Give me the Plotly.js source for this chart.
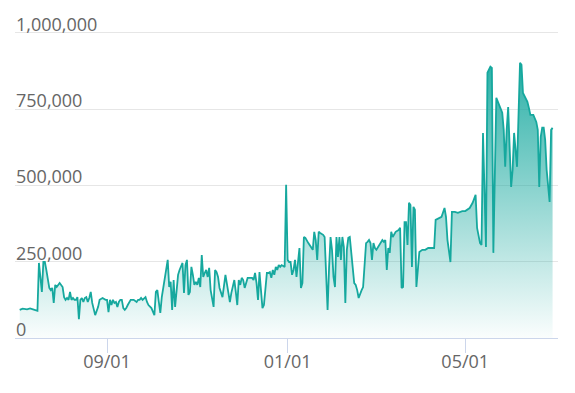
<!DOCTYPE html>
<html>
<head>
<meta charset="utf-8">
<script src="https://cdn.plot.ly/plotly-3.0.1.min.js"></script>
<style>html,body{margin:0;padding:0;background:#fff;}#chart{width:575px;height:393px;}</style>
</head>
<body>
<div id="chart"></div>
<script>
const dates = [
"2020-07-04","2020-07-06","2020-07-09","2020-07-11","2020-07-13","2020-07-16","2020-07-17","2020-07-18","2020-07-19","2020-07-20",
"2020-07-21","2020-07-22","2020-07-23","2020-07-24","2020-07-25","2020-07-26","2020-07-27","2020-07-28","2020-07-29","2020-07-30",
"2020-07-31","2020-08-02","2020-08-03","2020-08-04","2020-08-05","2020-08-06","2020-08-07","2020-08-08","2020-08-09","2020-08-10",
"2020-08-11","2020-08-12","2020-08-13","2020-08-14","2020-08-15","2020-08-16","2020-08-17","2020-08-18","2020-08-19","2020-08-20",
"2020-08-21","2020-08-22","2020-08-23","2020-08-24","2020-08-26","2020-08-27","2020-08-29","2020-08-31","2020-09-01","2020-09-02",
"2020-09-03","2020-09-04","2020-09-05","2020-09-06","2020-09-07","2020-09-08","2020-09-09","2020-09-10","2020-09-11","2020-09-12",
"2020-09-13","2020-09-14","2020-09-15","2020-09-17","2020-09-18","2020-09-19","2020-09-21","2020-09-22","2020-09-23","2020-09-24",
"2020-09-25","2020-09-26","2020-09-27","2020-09-28","2020-09-29","2020-10-01","2020-10-03","2020-10-04","2020-10-05","2020-10-06",
"2020-10-07","2020-10-08","2020-10-09","2020-10-10","2020-10-11","2020-10-12","2020-10-13","2020-10-14","2020-10-15","2020-10-16",
"2020-10-17","2020-10-19","2020-10-20","2020-10-22","2020-10-23","2020-10-24","2020-10-25","2020-10-26","2020-10-27","2020-10-28",
"2020-10-29","2020-10-30","2020-10-31","2020-11-01","2020-11-02","2020-11-03","2020-11-04","2020-11-05","2020-11-06","2020-11-07",
"2020-11-08","2020-11-09","2020-11-10","2020-11-11","2020-11-12","2020-11-13","2020-11-14","2020-11-15","2020-11-16","2020-11-18",
"2020-11-19","2020-11-20","2020-11-22","2020-11-23","2020-11-24","2020-11-25","2020-11-26","2020-11-27","2020-11-28","2020-11-29",
"2020-11-30","2020-12-01","2020-12-02","2020-12-03","2020-12-04","2020-12-05","2020-12-07","2020-12-08","2020-12-09","2020-12-10",
"2020-12-11","2020-12-12","2020-12-13","2020-12-14","2020-12-15","2020-12-16","2020-12-17","2020-12-18","2020-12-19","2020-12-20",
"2020-12-21","2020-12-22","2020-12-23","2020-12-24","2020-12-25","2020-12-26","2020-12-27","2020-12-28","2020-12-30","2020-12-31",
"2021-01-01","2021-01-02","2021-01-03","2021-01-04","2021-01-05","2021-01-06","2021-01-07","2021-01-08","2021-01-09","2021-01-10",
"2021-01-11","2021-01-12","2021-01-13","2021-01-15","2021-01-17","2021-01-18","2021-01-19","2021-01-20","2021-01-21","2021-01-22",
"2021-01-23","2021-01-25","2021-01-26","2021-01-28","2021-01-29","2021-01-30","2021-01-31","2021-02-01","2021-02-02","2021-02-03",
"2021-02-04","2021-02-05","2021-02-06","2021-02-07","2021-02-08","2021-02-09","2021-02-10","2021-02-11","2021-02-12","2021-02-13",
"2021-02-14","2021-02-15","2021-02-16","2021-02-17","2021-02-18","2021-02-19","2021-02-20","2021-02-21","2021-02-22","2021-02-23",
"2021-02-24","2021-02-25","2021-02-26","2021-02-27","2021-02-28","2021-03-01","2021-03-02","2021-03-03","2021-03-04","2021-03-05",
"2021-03-06","2021-03-07","2021-03-08","2021-03-09","2021-03-10","2021-03-11","2021-03-12","2021-03-13","2021-03-14","2021-03-15",
"2021-03-17","2021-03-18","2021-03-19","2021-03-20","2021-03-21","2021-03-22","2021-03-23","2021-03-24","2021-03-25","2021-03-26",
"2021-03-27","2021-03-28","2021-03-29","2021-03-31","2021-04-02","2021-04-04","2021-04-06","2021-04-08","2021-04-10","2021-04-11",
"2021-04-13","2021-04-15","2021-04-17","2021-04-18","2021-04-19","2021-04-21","2021-04-22","2021-04-24","2021-04-26","2021-04-29",
"2021-05-01","2021-05-03","2021-05-04","2021-05-06","2021-05-08","2021-05-09","2021-05-10","2021-05-11","2021-05-12","2021-05-13",
"2021-05-15","2021-05-16","2021-05-17","2021-05-18","2021-05-19","2021-05-20","2021-05-22","2021-05-24","2021-05-26","2021-05-27",
"2021-05-28","2021-05-29","2021-05-30","2021-06-01","2021-06-02","2021-06-03","2021-06-04","2021-06-05","2021-06-07","2021-06-08",
"2021-06-09","2021-06-12","2021-06-13","2021-06-14","2021-06-16","2021-06-18","2021-06-19","2021-06-20","2021-06-21","2021-06-22",
"2021-06-23","2021-06-24","2021-06-25","2021-06-27","2021-06-28","2021-06-29"
];
const values = [
92000,96000,94000,97000,94000,89000,246000,190000,151000,249000,
249000,223000,190000,164000,157000,164000,115000,174000,167000,174000,
180000,167000,134000,125000,131000,125000,151000,125000,131000,125000,
125000,134000,62000,125000,131000,118000,131000,134000,118000,131000,
151000,115000,92000,75000,102000,125000,131000,125000,125000,85000,
125000,108000,125000,115000,118000,102000,118000,125000,125000,98000,
92000,98000,108000,125000,125000,125000,118000,125000,125000,131000,
125000,131000,134000,118000,108000,98000,75000,151000,157000,118000,
82000,134000,164000,184000,213000,256000,167000,184000,92000,190000,
102000,207000,223000,246000,148000,239000,256000,141000,151000,233000,
207000,174000,184000,174000,197000,167000,272000,200000,213000,223000,
200000,230000,157000,134000,102000,223000,216000,200000,164000,134000,
164000,207000,148000,118000,148000,167000,190000,151000,108000,190000,
174000,197000,190000,164000,184000,197000,197000,197000,190000,213000,
180000,125000,216000,157000,98000,108000,151000,213000,213000,216000,
197000,223000,207000,233000,223000,239000,233000,239000,233000,502000,
256000,249000,249000,207000,223000,256000,200000,246000,295000,164000,
180000,331000,328000,311000,298000,289000,348000,321000,256000,348000,
344000,338000,331000,92000,230000,331000,289000,200000,167000,331000,
266000,331000,256000,331000,298000,115000,289000,328000,331000,272000,
216000,180000,174000,157000,131000,148000,157000,167000,230000,311000,
315000,321000,311000,256000,311000,295000,289000,298000,305000,315000,
321000,315000,321000,223000,295000,279000,348000,331000,338000,348000,
354000,361000,164000,167000,380000,380000,305000,443000,436000,233000,
430000,420000,167000,282000,289000,289000,295000,295000,295000,387000,
393000,397000,426000,397000,321000,249000,413000,413000,410000,416000,
416000,423000,426000,443000,469000,361000,331000,311000,305000,672000,
298000,869000,879000,889000,885000,279000,787000,764000,738000,682000,
561000,682000,757000,495000,551000,672000,626000,561000,902000,895000,
803000,774000,754000,731000,731000,708000,682000,495000,659000,689000,
689000,649000,551000,446000,682000,689000
];
const yTicks = [0, 250000, 500000, 750000, 1000000];
const yTickLabels = ["0", "250,000", "500,000", "750,000", "1,000,000"];
const xTicks = ["2020-09-01", "2021-01-01", "2021-05-01"];

const teal = "rgb(22,168,158)";
const labelFont = {family: "Open Sans, sans-serif", size: 18, color: "#666666"};
const trace = {
  x: dates, y: values, type: "scatter", mode: "lines",
  line: {color: teal, width: 1.8},
  fill: "tozeroy",
  fillgradient: {type: "vertical", start: 0, stop: 1000000,
    colorscale: [[0, "rgba(22,168,158,0.02)"], [1, "rgba(22,168,158,1)"]]},
  hoverinfo: "skip"
};
const annotations = yTicks.map((v, i) => ({
  xref: "paper", x: 0, xanchor: "left",
  yref: "y", y: v, yanchor: "bottom", yshift: -4,
  text: yTickLabels[i], showarrow: false, font: labelFont, borderpad: 0
}));
const layout = {
  width: 575, height: 393,
  margin: {l: 15, r: 17, t: 13, b: 55},
  paper_bgcolor: "#fff", plot_bgcolor: "#fff",
  showlegend: false,
  font: labelFont,
  annotations: annotations,
  xaxis: {
    type: "date",
    range: ["2020-06-30 20:00", "2021-07-02 16:00"],
    tickvals: xTicks, tickformat: "%m/%d",
    showgrid: false, zeroline: false,
    showline: true, linecolor: "#ccd6eb", linewidth: 1,
    ticks: "outside", ticklen: 14, tickcolor: "#ccd6eb", tickwidth: 1,
    ticklabelstandoff: -7,
    tickfont: labelFont
  },
  yaxis: {
    range: [0, 1065000],
    tickvals: yTicks, showticklabels: false,
    showgrid: true, gridcolor: "#e6e6e6", gridwidth: 1,
    zeroline: false, showline: false, ticks: ""
  }
};
Plotly.newPlot("chart", [trace], layout, {staticPlot: true, displayModeBar: false});
</script>
</body>
</html>
